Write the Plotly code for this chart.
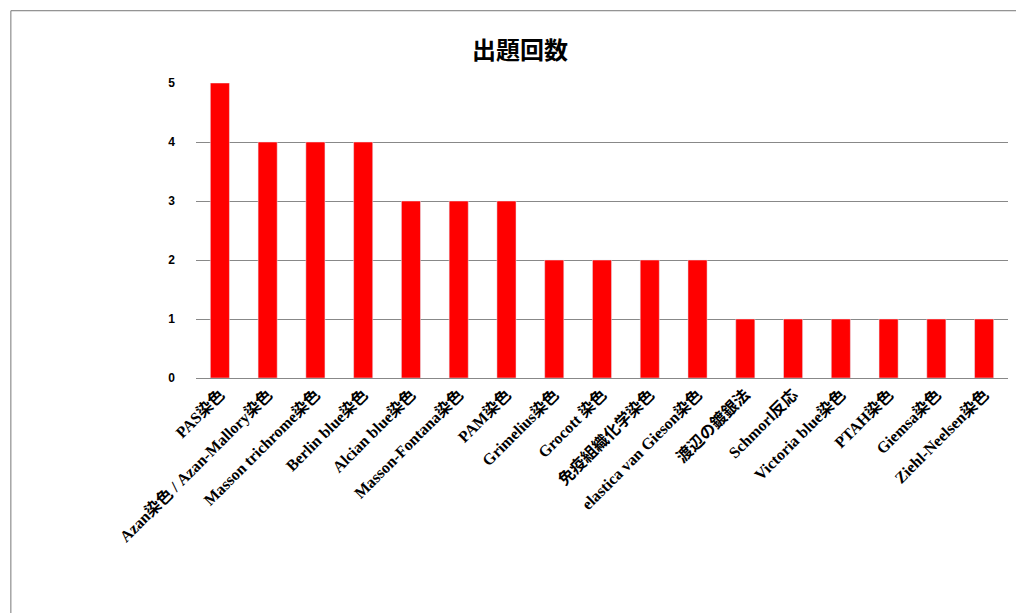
import plotly.graph_objects as go

categories = ["PAS染色", "Azan染色 / Azan-Mallory染色", "Masson trichrome染色", "Berlin blue染色",
              "Alcian blue染色", "Masson-Fontana染色", "PAM染色", "Grimelius染色", "Grocott 染色",
              "免疫組織化学染色", "elastica van Gieson染色", "渡辺の鍍銀法", "Schmorl反応",
              "Victoria blue染色", "PTAH染色", "Giemsa染色", "Ziehl-Neelsen染色"]
values = [5, 4, 4, 4, 3, 3, 3, 2, 2, 2, 2, 1, 1, 1, 1, 1, 1]

fig = go.Figure(go.Bar(x=categories, y=values, marker_color="#ff0000", width=0.4))
fig.update_layout(
    width=1024, height=613,
    title=dict(text="<b>出題回数</b>", x=0.5, xanchor="center", y=0.945,
               font=dict(size=24, family="Noto Sans CJK JP", color="black")),
    plot_bgcolor="white", paper_bgcolor="white",
    margin=dict(l=188, r=24, t=75, b=243),
    xaxis=dict(tickangle=-45, tickfont=dict(size=16, family="Liberation Serif, Noto Sans CJK JP", color="black"),
               showline=True, linecolor="#888", ticks="",
               tickmode="array", tickvals=categories, ticktext=["<b>" + c + "</b>" for c in categories]),
    yaxis=dict(range=[0, 5], dtick=1, showgrid=True, gridcolor="#888", zeroline=False,
               tickfont=dict(size=12, family="Liberation Sans", color="black"),
               tickprefix="<b>", ticksuffix="</b>      "),
    shapes=[dict(type="rect", xref="paper", yref="paper", x0=-0.228, x1=1.026, y0=-0.817, y1=1.245,
                 line=dict(color="#777", width=1))],
)
fig.write_html("out.html")
